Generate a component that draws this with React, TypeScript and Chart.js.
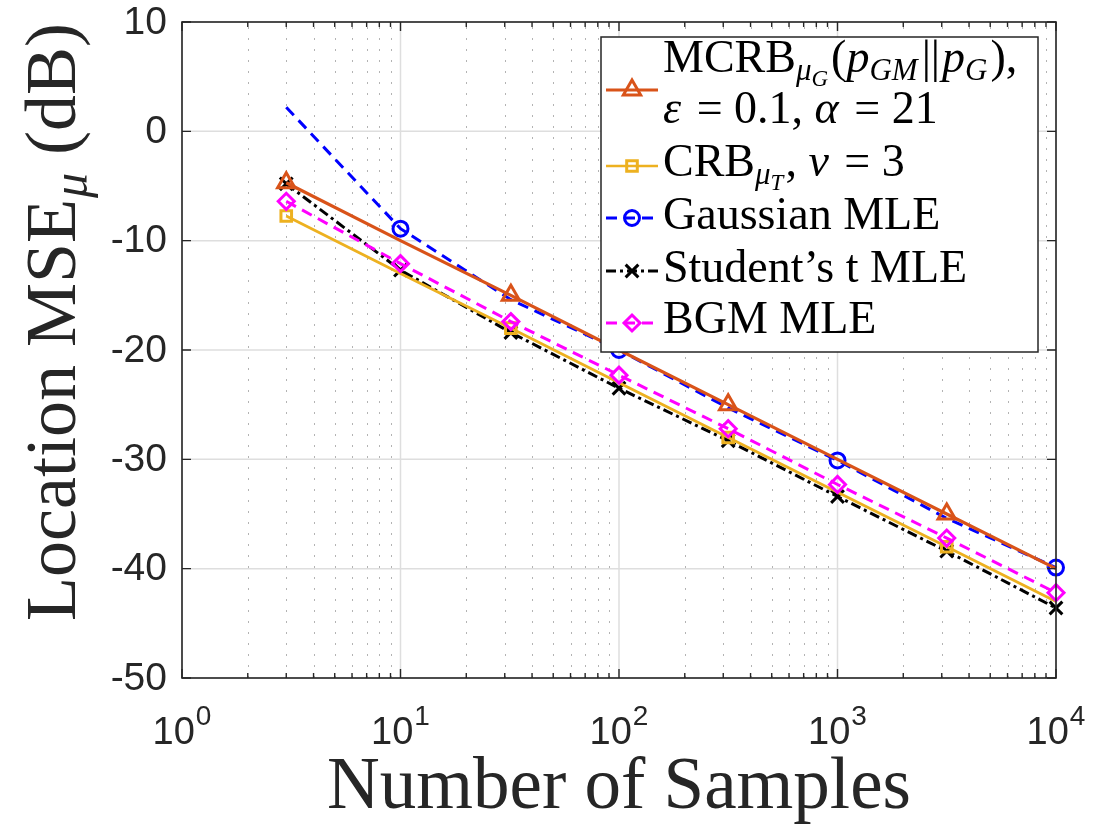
import React, { useEffect, useRef } from 'react';
import { Chart, registerables } from 'chart.js';
Chart.register(...registerables);

// ---- data ----
const samples = [3, 10, 32, 100, 316, 1000, 3162, 10000];
const mcrbValues = [-4.7, -10.0, -15.0, -20.0, -25.0, -30.0, -35.0, -40.0];
const crbValues = [-7.75, -13.0, -18.0, -23.0, -28.0, -33.0, -38.0, -43.0];
const gaussianMle = [2.2, -8.9, -15.4, -20.0, -25.3, -30.1, -35.4, -39.9];
const studentMle = [-4.8, -12.7, -18.4, -23.5, -28.3, -33.4, -38.4, -43.6];
const bgmMle = [-6.4, -12.1, -17.4, -22.3, -27.2, -32.3, -37.2, -42.2];
const xTickExponents = [0, 1, 2, 3, 4];
const yTicks = [10, 0, -10, -20, -30, -40, -50];

const SERIF = '"Liberation Serif", "Times New Roman", serif';
const SANS = '"Liberation Sans", Arial, Helvetica, sans-serif';
const AX = '#262626';

const C_MCRB = '#D95319';
const C_CRB = '#EDB120';
const C_GAUSS = '#0000FF';
const C_STUD = '#000000';
const C_BGM = '#FF00FF';

type Seg = { t: string; s: number; it?: boolean; dy?: number; dx?: number };

function richWidth(ctx: CanvasRenderingContext2D, segs: Seg[]) {
  let w = 0;
  for (const g of segs) {
    ctx.font = `${g.it ? 'italic ' : ''}${g.s}px ${SERIF}`;
    w += (g.dx || 0) + ctx.measureText(g.t).width;
  }
  return w;
}

function drawRich(ctx: CanvasRenderingContext2D, x: number, y: number, segs: Seg[]) {
  let cx = x;
  for (const g of segs) {
    cx += g.dx || 0;
    ctx.font = `${g.it ? 'italic ' : ''}${g.s}px ${SERIF}`;
    ctx.fillText(g.t, cx, y + (g.dy || 0));
    cx += ctx.measureText(g.t).width;
  }
}

function drawMarker(ctx: CanvasRenderingContext2D, style: string, x: number, y: number, r: number) {
  ctx.beginPath();
  if (style === 'triangle') {
    for (let k = 0; k < 3; k++) {
      const a = (k * 2 * Math.PI) / 3;
      const px = x + Math.sin(a) * r;
      const py = y - Math.cos(a) * r;
      if (k === 0) ctx.moveTo(px, py); else ctx.lineTo(px, py);
    }
    ctx.closePath();
  } else if (style === 'rect') {
    const s = Math.SQRT1_2 * r;
    ctx.rect(x - s, y - s, 2 * s, 2 * s);
  } else if (style === 'circle') {
    ctx.arc(x, y, r, 0, Math.PI * 2);
  } else if (style === 'rectRot') {
    ctx.moveTo(x, y - r);
    ctx.lineTo(x + r, y);
    ctx.lineTo(x, y + r);
    ctx.lineTo(x - r, y);
    ctx.closePath();
  } else if (style === 'crossRot') {
    const s = Math.SQRT1_2 * r;
    ctx.moveTo(x - s, y - s); ctx.lineTo(x + s, y + s);
    ctx.moveTo(x + s, y - s); ctx.lineTo(x - s, y + s);
  }
  ctx.stroke();
}

const decorPlugin = {
  id: 'decor',
  beforeDraw(chart: any) {
    const { ctx } = chart;
    ctx.save();
    ctx.fillStyle = '#ffffff';
    ctx.fillRect(0, 0, chart.width, chart.height);
    ctx.restore();
  },
  beforeDatasetsDraw(chart: any) {
    const { ctx, chartArea: a, scales } = chart;
    const xs = scales.x, ys = scales.y;
    ctx.save();
    // minor dotted x grid
    ctx.strokeStyle = 'rgba(38,38,38,0.35)';
    ctx.lineWidth = 1;
    ctx.setLineDash([2, 9]);
    for (let d = 0; d < xTickExponents.length - 1; d++) {
      for (let k = 2; k <= 9; k++) {
        const px = Math.round(xs.getPixelForValue(k * Math.pow(10, xTickExponents[d]))) + 0.5;
        ctx.beginPath();
        ctx.moveTo(px, a.bottom);
        ctx.lineTo(px, a.top);
        ctx.stroke();
      }
    }
    ctx.setLineDash([]);
    ctx.strokeStyle = '#dedede';
    ctx.lineWidth = 1.5;
    for (const e of xTickExponents) {
      const px = xs.getPixelForValue(Math.pow(10, e));
      ctx.beginPath();
      ctx.moveTo(px, a.top);
      ctx.lineTo(px, a.bottom);
      ctx.stroke();
    }
    for (const v of yTicks) {
      const py = ys.getPixelForValue(v);
      ctx.beginPath();
      ctx.moveTo(a.left, py);
      ctx.lineTo(a.right, py);
      ctx.stroke();
    }
    ctx.restore();
  },
  afterDatasetsDraw(chart: any) {
    const { ctx, chartArea: a, scales } = chart;
    const xs = scales.x, ys = scales.y;
    ctx.save();
    // box
    ctx.strokeStyle = AX;
    ctx.lineWidth = 1.6;
    ctx.strokeRect(a.left, a.top, a.right - a.left, a.bottom - a.top);
    // ticks
    ctx.lineWidth = 1.4;
    for (let d = 0; d < xTickExponents.length; d++) {
      const base = Math.pow(10, xTickExponents[d]);
      const px = xs.getPixelForValue(base);
      ctx.beginPath();
      ctx.moveTo(px, a.bottom); ctx.lineTo(px, a.bottom - 9);
      ctx.moveTo(px, a.top); ctx.lineTo(px, a.top + 9);
      ctx.stroke();
      if (d < xTickExponents.length - 1) {
        for (let k = 2; k <= 9; k++) {
          const mx = xs.getPixelForValue(k * base);
          ctx.beginPath();
          ctx.moveTo(mx, a.bottom); ctx.lineTo(mx, a.bottom - 5);
          ctx.moveTo(mx, a.top); ctx.lineTo(mx, a.top + 5);
          ctx.stroke();
        }
      }
    }
    for (const v of yTicks) {
      const py = ys.getPixelForValue(v);
      ctx.beginPath();
      ctx.moveTo(a.left, py); ctx.lineTo(a.left + 9, py);
      ctx.moveTo(a.right, py); ctx.lineTo(a.right - 9, py);
      ctx.stroke();
    }
    // y tick labels
    ctx.fillStyle = AX;
    ctx.font = `39px ${SANS}`;
    ctx.textAlign = 'right';
    ctx.textBaseline = 'middle';
    for (const v of yTicks) {
      ctx.fillText(String(v), a.left - 15, ys.getPixelForValue(v) + 1);
    }
    // x tick labels 10^e
    ctx.textAlign = 'left';
    ctx.textBaseline = 'alphabetic';
    for (const e of xTickExponents) {
      const px = xs.getPixelForValue(Math.pow(10, e));
      ctx.font = `38px ${SANS}`;
      const wb = ctx.measureText('10').width;
      ctx.font = `28px ${SANS}`;
      const we = ctx.measureText(String(e)).width;
      const x0 = px - (wb + we + 1) / 2;
      ctx.font = `38px ${SANS}`;
      ctx.fillText('10', x0, a.bottom + 66);
      ctx.font = `28px ${SANS}`;
      ctx.fillText(String(e), x0 + wb + 1, a.bottom + 47);
    }
    // x title
    ctx.fillStyle = AX;
    ctx.textAlign = 'center';
    ctx.font = `73px ${SERIF}`;
    ctx.fillText('Number of Samples', (a.left + a.right) / 2, 808);
    // y title (rotated)
    ctx.textAlign = 'left';
    const ySegs: Seg[] = [
      { t: 'Location MSE', s: 72 },
      { t: 'μ', s: 50, it: true, dy: 12, dx: 1 },
      { t: ' (dB)', s: 72 },
    ];
    const yw = richWidth(ctx, ySegs);
    ctx.save();
    ctx.translate(75, 322 + yw / 2);
    ctx.rotate(-Math.PI / 2);
    drawRich(ctx, 0, 0, ySegs);
    ctx.restore();

    // legend
    const L = { x: 601, y: 37, w: 437, h: 315 };
    ctx.fillStyle = '#ffffff';
    ctx.fillRect(L.x, L.y, L.w, L.h);
    ctx.strokeStyle = AX;
    ctx.lineWidth = 1.5;
    ctx.strokeRect(L.x, L.y, L.w, L.h);

    const lx0 = 606, lx1 = 658, mx = 632, tx = 663;
    const rows = [
      { color: C_MCRB, dash: [] as number[], lw: 3, style: 'triangle', r: 10, ly: 90 },
      { color: C_CRB, dash: [] as number[], lw: 2.5, style: 'rect', r: 7.5, ly: 166 },
      { color: C_GAUSS, dash: [11, 7], lw: 3, style: 'circle', r: 7.5, ly: 218 },
      { color: C_STUD, dash: [10, 4, 3, 4], lw: 3, style: 'crossRot', r: 9, ly: 271 },
      { color: C_BGM, dash: [11, 7], lw: 3, style: 'rectRot', r: 8, ly: 323 },
    ];
    for (const r of rows) {
      ctx.strokeStyle = r.color;
      ctx.lineWidth = r.lw;
      ctx.setLineDash(r.dash);
      ctx.beginPath();
      ctx.moveTo(lx0, r.ly);
      ctx.lineTo(lx1, r.ly);
      ctx.stroke();
      ctx.setLineDash([]);
      ctx.lineWidth = 3;
      drawMarker(ctx, r.style, mx, r.ly, r.r);
    }
    ctx.fillStyle = '#000000';
    ctx.textAlign = 'left';
    ctx.textBaseline = 'alphabetic';
    const F = 46;
    drawRich(ctx, tx, 72, [
      { t: 'MCRB', s: F },
      { t: 'μ', s: 31, it: true, dy: 8 },
      { t: 'G', s: 23, it: true, dy: 14 },
      { t: '(', s: F, dx: 3 },
      { t: 'p', s: F, it: true },
      { t: 'GM', s: 31, it: true, dy: 8 },
      { t: '||', s: F, dx: 4 },
      { t: 'p', s: F, it: true, dx: 2 },
      { t: 'G', s: 31, it: true, dy: 8 },
      { t: '),', s: F, dx: 3 },
    ]);
    drawRich(ctx, tx, 123, [
      { t: 'ε', s: F, it: true },
      { t: ' = 0.1, ', s: F, dx: 4 },
      { t: 'α', s: F, it: true },
      { t: ' = 21', s: F, dx: 4 },
    ]);
    drawRich(ctx, tx, 176, [
      { t: 'CRB', s: F },
      { t: 'μ', s: 31, it: true, dy: 8 },
      { t: 'T', s: 23, it: true, dy: 14 },
      { t: ', ', s: F, dx: 2 },
      { t: 'ν', s: F, it: true },
      { t: ' = 3', s: F, dx: 4 },
    ]);
    drawRich(ctx, tx, 229, [{ t: 'Gaussian MLE', s: F }]);
    drawRich(ctx, tx, 282, [{ t: 'Student’s t MLE', s: F }]);
    drawRich(ctx, tx, 333, [{ t: 'BGM MLE', s: F }]);
    ctx.restore();
  },
};

function toXY(vals: number[]) {
  return samples.map((x, i) => ({ x, y: vals[i] }));
}

export default function App() {
  const ref = useRef<HTMLCanvasElement | null>(null);
  useEffect(() => {
    if (!ref.current) return;
    const even = (r: number) => (c: any) => (c.dataIndex % 2 === 0 ? r : 0);
    const odd = (r: number) => (c: any) => (c.dataIndex % 2 === 1 ? r : 0);
    const chart = new Chart(ref.current, {
      type: 'line',
      data: {
        datasets: [
          {
            label: 'MCRB',
            data: toXY(mcrbValues),
            borderColor: C_MCRB, borderWidth: 3.2,
            pointStyle: 'triangle', pointRadius: even(10),
            pointBorderColor: C_MCRB, pointBorderWidth: 3,
            pointBackgroundColor: 'rgba(0,0,0,0)', clip: false, order: 1,
          },
          {
            label: 'CRB',
            data: toXY(crbValues),
            borderColor: C_CRB, borderWidth: 2.8,
            pointStyle: 'rect', pointRadius: even(7.5),
            pointBorderColor: C_CRB, pointBorderWidth: 3,
            pointBackgroundColor: 'rgba(0,0,0,0)', clip: false, order: 4,
          },
          {
            label: 'Gaussian MLE',
            data: toXY(gaussianMle),
            borderColor: C_GAUSS, borderWidth: 3, borderDash: [11, 7],
            pointStyle: 'circle', pointRadius: odd(7.5),
            pointBorderColor: C_GAUSS, pointBorderWidth: 3,
            pointBackgroundColor: 'rgba(0,0,0,0)', clip: false, order: 2,
          },
          {
            label: "Student's t MLE",
            data: toXY(studentMle),
            borderColor: C_STUD, borderWidth: 3, borderDash: [10, 4, 3, 4],
            pointStyle: 'crossRot', pointRadius: 9,
            pointBorderColor: C_STUD, pointBorderWidth: 3,
            pointBackgroundColor: 'rgba(0,0,0,0)', clip: false, order: 5,
          },
          {
            label: 'BGM MLE',
            data: toXY(bgmMle),
            borderColor: C_BGM, borderWidth: 3, borderDash: [11, 7],
            pointStyle: 'rectRot', pointRadius: 8,
            pointBorderColor: C_BGM, pointBorderWidth: 3,
            pointBackgroundColor: 'rgba(0,0,0,0)', clip: false, order: 3,
          },
        ],
      },
      options: {
        responsive: false,
        animation: false,
        layout: { padding: { left: 182, top: 22, right: 44, bottom: 150 } },
        elements: { line: { tension: 0, fill: false } },
        plugins: { legend: { display: false }, tooltip: { enabled: false } },
        events: [],
        scales: {
          x: { type: 'logarithmic', min: 1, max: 10000, display: false },
          y: { type: 'linear', min: -50, max: 10, display: false },
        },
      },
      plugins: [decorPlugin],
    } as any);
    return () => chart.destroy();
  }, []);
  return (
    <div style={{ position: 'absolute', left: 0, top: 0, width: 1100, height: 828, background: '#fff' }}>
      <canvas ref={ref} width={1100} height={828} style={{ width: 1100, height: 828, display: 'block' }} />
    </div>
  );
}
